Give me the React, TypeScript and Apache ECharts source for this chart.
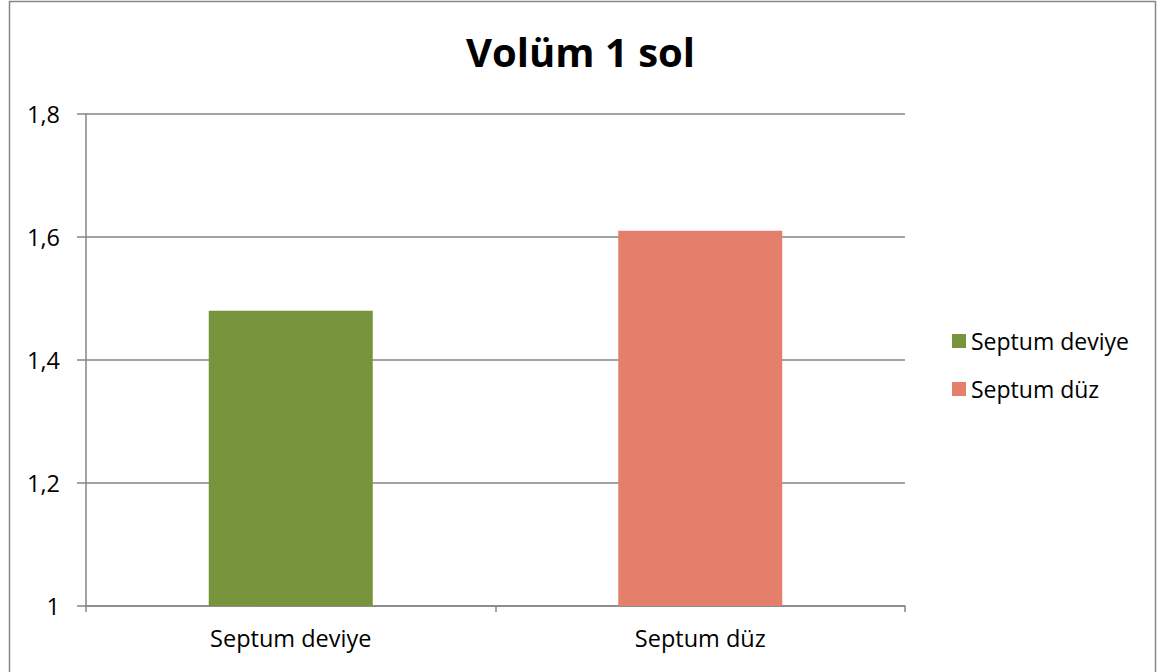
import React, { useEffect, useRef } from "react";
import * as echarts from "echarts";

const titleText = "Volüm 1 sol";
const categories = ["Septum deviye", "Septum düz"];
const seriesNames = ["Septum deviye", "Septum düz"];
const deviyeValues = [1.48, null];
const duzValues = [null, 1.61];
const seriesColors = ["#77933C", "#E47F6C"];
const yMin = 1;
const yMax = 1.8;
const yInterval = 0.2;

const FONT = "'Open Sans', 'Noto Sans', sans-serif";
const GRAY = "#868686";

export default function App() {
  const ref = useRef<HTMLDivElement>(null);
  useEffect(() => {
    if (!ref.current) return;
    const chart = echarts.init(ref.current, null, { renderer: "svg" });
    chart.setOption({
      animation: false,
      backgroundColor: "#ffffff",
      title: {
        text: titleText,
        left: "center",
        top: 26,
        textStyle: { fontFamily: FONT, fontSize: 40, fontWeight: "bold", color: "#000" },
      },
      graphic: [
        {
          type: "rect",
          shape: { x: 9.5, y: 1.5, width: 1146, height: 700 },
          style: { fill: "none", stroke: GRAY, lineWidth: 1.5 },
          silent: true,
        },
      ],
      legend: {
        orient: "vertical",
        left: 947,
        top: 322,
        itemWidth: 14,
        itemHeight: 14,
        itemGap: 20,
        icon: "rect",
        textStyle: { fontFamily: FONT, fontSize: 23, color: "#000", lineHeight: 28, padding: [0, 0, 0, 0] },
        data: seriesNames,
      },
      grid: { left: 86, right: 256, top: 114, bottom: 66 },
      xAxis: {
        type: "category",
        data: categories,
        axisLine: { lineStyle: { color: GRAY, width: 1.5 } },
        axisTick: { show: true, length: 6, lineStyle: { color: GRAY, width: 1.5 } },
        axisLabel: { fontFamily: FONT, fontSize: 23.5, color: "#000", margin: 20 },
      },
      yAxis: {
        type: "value",
        min: yMin,
        max: yMax,
        interval: yInterval,
        axisLine: { show: true, lineStyle: { color: GRAY, width: 1.5 } },
        axisTick: { show: true, length: 9, lineStyle: { color: GRAY, width: 1.5 } },
        splitLine: { lineStyle: { color: GRAY, width: 1.5 } },
        axisLabel: {
          fontFamily: FONT,
          fontSize: 23.5,
          color: "#000",
          margin: 26,
          formatter: (v: number) => String(Math.round(v * 10) / 10).replace(".", ","),
        },
      },
      series: [
        {
          name: seriesNames[0],
          type: "bar",
          data: deviyeValues,
          barWidth: 164,
          barGap: "-100%",
          itemStyle: { color: seriesColors[0] },
        },
        {
          name: seriesNames[1],
          type: "bar",
          data: duzValues,
          barWidth: 164,
          barGap: "-100%",
          itemStyle: { color: seriesColors[1] },
        },
      ],
    });
    return () => chart.dispose();
  }, []);
  return (
    <div
      ref={ref}
      style={{ position: "absolute", left: 0, top: 0, width: 1161, height: 672 }}
    />
  );
}
